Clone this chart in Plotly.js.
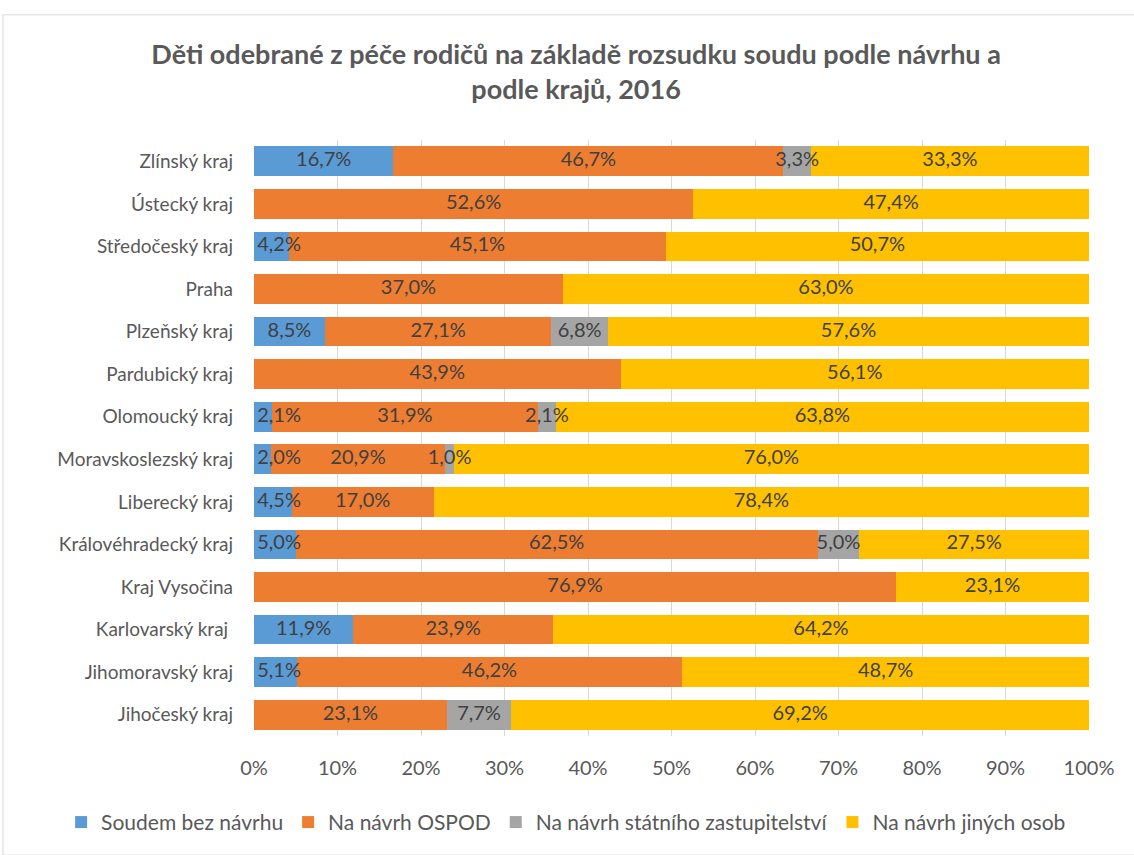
<!DOCTYPE html>
<html>
<head>
<meta charset="utf-8">
<script src="https://cdn.plot.ly/plotly-3.0.1.min.js"></script>
<style>
  html, body { margin: 0; padding: 0; background: #ffffff; }
  #chart { width: 1134px; height: 855px; }
</style>
</head>
<body>
<div id="chart"></div>
<script>
// Kraje odspodu nahoru (Plotly kreslí první kategorii dole)
var kraje = [
    'Jihočeský kraj', 'Jihomoravský kraj', 'Karlovarský kraj ', 'Kraj Vysočina',
    'Královéhradecký kraj', 'Liberecký kraj', 'Moravskoslezský kraj', 'Olomoucký kraj',
    'Pardubický kraj', 'Plzeňský kraj', 'Praha', 'Středočeský kraj',
    'Ústecký kraj', 'Zlínský kraj'
];

var soudemBezNavrhu = [0, 5.1, 11.9, 0, 5.0, 4.5, 2.0, 2.1, 0, 8.5, 0, 4.2, 0, 16.7];
var navrhOspod      = [23.1, 46.2, 23.9, 76.9, 62.5, 17.0, 20.9, 31.9, 43.9, 27.1, 37.0, 45.1, 52.6, 46.7];
var navrhStatZast   = [7.7, 0, 0, 0, 5.0, 0, 1.0, 2.1, 0, 6.8, 0, 0, 0, 3.3];
var navrhJinychOsob = [69.2, 48.7, 64.2, 23.1, 27.5, 78.4, 76.0, 63.8, 56.1, 57.6, 63.0, 50.7, 47.4, 33.3];

var nazvy = ['Soudem bez návrhu', 'Na návrh OSPOD', 'Na návrh státního zastupitelství', 'Na návrh jiných osob'];
var barvy = ['#5B9BD5', '#ED7D31', '#A5A5A5', '#FFC000'];

var xTicks = [0, 10, 20, 30, 40, 50, 60, 70, 80, 90, 100];

var font = 'Lato, "Open Sans", sans-serif';
var serieHodnot = [soudemBezNavrhu, navrhOspod, navrhStatZast, navrhJinychOsob];

// popisek ve formátu 16,7 %
function popisek(v) {
    return v.toFixed(1).replace('.', ',') + '%';
}

var data = [];

// pruhy (100% skládaný graf)
serieHodnot.forEach(function (values, i) {
    data.push({
        type: 'bar',
        orientation: 'h',
        name: nazvy[i],
        y: kraje,
        x: values,
        marker: { color: barvy[i] },
        hoverinfo: 'skip'
    });
});

// popisky dat nad všemi pruhy - střed každého úseku jako v Excelu
var souctu = kraje.map(function (k, j) {
    return serieHodnot.reduce(function (s, vals) { return s + vals[j]; }, 0);
});
var lx = [], ly = [], lt = [];
kraje.forEach(function (k, j) {
    var cum = 0;
    serieHodnot.forEach(function (vals, i) {
        var v = vals[j];
        if (v > 0) {
            var mid = (cum + v / 2) / souctu[j] * 100;
            if (i === 0) mid = Math.max(mid, 3.0);  // Excel drží popisek uvnitř plochy
            lx.push(mid);
            ly.push(k);
            lt.push(popisek(v));
        }
        cum += v;
    });
});
data.push({
    type: 'scatter',
    mode: 'text',
    x: lx,
    y: ly,
    text: lt,
    textposition: 'middle center',
    textfont: { family: font, size: 20, color: '#404040' },
    cliponaxis: false,
    showlegend: false,
    hoverinfo: 'skip'
});

var layout = {
    width: 1134,
    height: 855,
    margin: { l: 254, r: 45, t: 140, b: 112 },
    paper_bgcolor: '#ffffff',
    plot_bgcolor: '#ffffff',
    barmode: 'stack',
    barnorm: 'percent',
    bargap: 0.3,
    showlegend: true,
    font: { family: font, color: '#595959', size: 19 },
    title: {
        text: 'Děti odebrané z péče rodičů na základě rozsudku soudu podle návrhu a<br>podle krajů, 2016',
        font: { family: font, size: 27, color: '#595959', weight: 'bold' },
        xref: 'container',
        x: 0.508,
        xanchor: 'center',
        yref: 'container',
        y: 0.925,
        yanchor: 'top'
    },
    xaxis: {
        range: [0, 100],
        tickvals: xTicks,
        ticktext: xTicks.map(function (t) { return t + '%'; }),
        showgrid: true,
        gridcolor: '#D9D9D9',
        gridwidth: 1,
        zeroline: false,
        showline: false,
        ticks: '',
        ticklabelstandoff: 18,
        tickfont: { family: font, size: 20, color: '#595959' },
        fixedrange: true
    },
    yaxis: {
        type: 'category',
        categoryorder: 'array',
        categoryarray: kraje,
        range: [-0.5, kraje.length - 0.5],
        showgrid: false,
        zeroline: false,
        showline: false,
        ticks: '',
        ticklabelstandoff: 20,
        tickfont: { family: font, size: 19, color: '#595959' },
        fixedrange: true
    },
    legend: {
        orientation: 'h',
        xref: 'paper',
        x: -0.231,
        xanchor: 'left',
        yref: 'paper',
        y: -0.145,
        yanchor: 'middle',
        traceorder: 'normal',
        font: { family: font, size: 21, color: '#595959' },
        itemwidth: 30
    },
    shapes: [{
        type: 'rect',
        xref: 'paper', yref: 'paper',
        x0: -0.3006, x1: 1.07,
        y0: -0.2, y1: 1.21,
        line: { color: '#D9D9D9', width: 1 },
        fillcolor: 'rgba(0,0,0,0)',
        layer: 'above'
    }]
};

Plotly.newPlot('chart', data, layout, { displayModeBar: false, staticPlot: true });
</script>
</body>
</html>
